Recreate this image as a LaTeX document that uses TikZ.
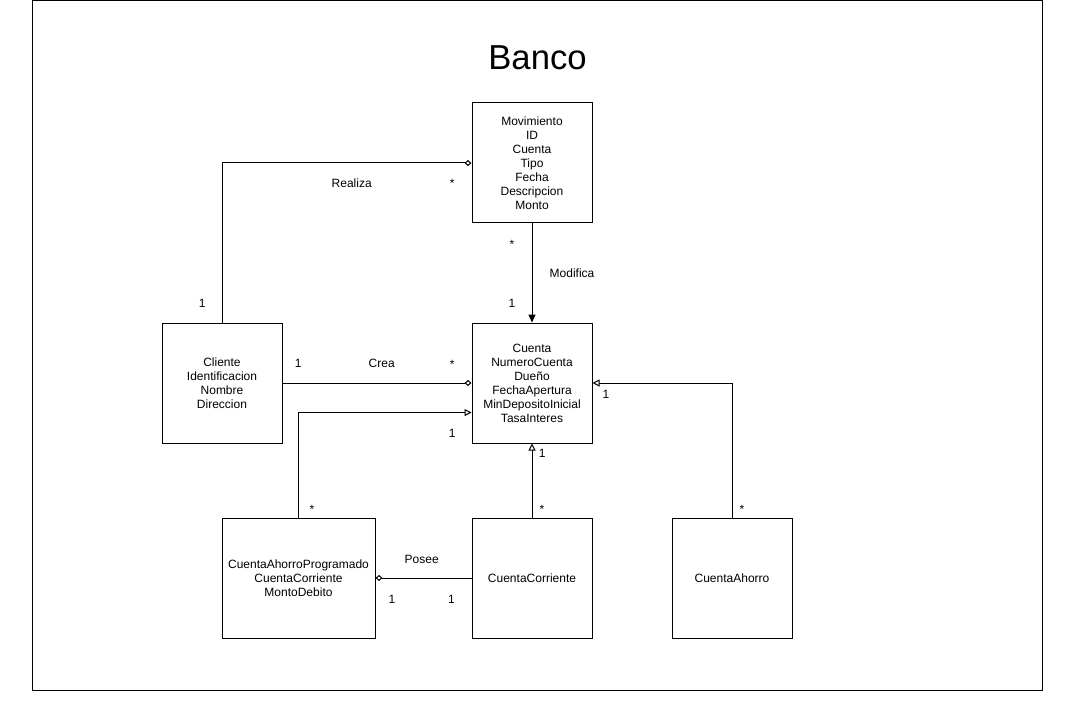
\documentclass[tikz,border=0pt]{standalone}
\usepackage{fontspec}
\setmainfont{Liberation Sans}
\usetikzlibrary{arrows.meta}
\newlength{\du}
\setlength{\du}{0.75pt}

\begin{document}
\begin{tikzpicture}[
  classbox/.style={draw=dialinecolor, line width=1\du, minimum width=120\du,
    minimum height=120\du, inner sep=0pt, align=center,
    font=\fontsize{9}{10.5}\selectfont},
  lbl/.style={anchor=base, inner sep=0pt, font=\fontsize{9}{10.5}\selectfont},
  assoc/.style={draw=dialinecolor, line width=1\du,
    -{Diamond[open, length=5.25pt, width=4.5pt]}},
  genl/.style={draw=dialinecolor, line width=1\du,
    -{Triangle[open, length=5.25pt, width=5.25pt]}},
  navig/.style={draw=dialinecolor, line width=1\du,
    -{Triangle[length=6pt, width=5.25pt]}}]
\pgftransformxscale{1.000000}
\pgftransformyscale{-1.000000}
\definecolor{dialinecolor}{rgb}{0.000000, 0.000000, 0.000000}
\useasboundingbox (0\du,0\du) rectangle (1080\du,716\du);
% frame and title
\draw[dialinecolor, line width=1\du] (32.5\du,0.5\du) rectangle (1042\du,690\du);
\node[anchor=base, font=\fontsize{26}{31}\selectfont] (title) at (537.5\du,69.3\du) {Banco};
% classes
\node[classbox] (mov) at (532\du,163\du) {Movimiento\\ID\\Cuenta\\Tipo\\Fecha\\Descripcion\\Monto};
\node[classbox] (cta) at (532\du,383\du) {Cuenta\\NumeroCuenta\\Dueño\\FechaApertura\\MinDepositoInicial\\TasaInteres};
\node[classbox] (cli) at (222\du,383\du) {Cliente\\Identificacion\\Nombre\\Direccion};
\node[classbox, minimum width=153\du] (cap) at (298.5\du,578\du) {CuentaAhorroProgramado\\CuentaCorriente\\MontoDebito};
\node[classbox] (cc) at (532\du,578\du) {CuentaCorriente};
\node[classbox] (ca) at (732\du,578\du) {CuentaAhorro};
% relations
\draw[assoc] (cli.north) |- (mov.west);
\draw[navig] (mov.south) -- (cta.north);
\draw[assoc] (cli.east) -- (cta.west);
\draw[genl] (cap.north) |- (cta.206.57);
\draw[genl] (cc.north) -- (cta.south);
\draw[genl] (ca.north) |- (cta.east);
\draw[assoc] (cc.west) -- (cap.east);
% labels
\node[lbl] (realiza) at (351.7\du,187.6\du) {Realiza};
\node[lbl] (realizaM) at (452.3\du,187.6\du) {*};
\node[lbl] (realizaN) at (202.3\du,307.6\du) {1};
\node[lbl] (modifica) at (572\du,277.6\du) {Modifica};
\node[lbl] (modificaM) at (512\du,248.6\du) {*};
\node[lbl] (modificaN) at (512\du,307.6\du) {1};
\node[lbl] (crea) at (381.7\du,367.6\du) {Crea};
\node[lbl] (creaN) at (298.3\du,367.6\du) {1};
\node[lbl] (creaM) at (452.3\du,368.3\du) {*};
\node[lbl] (capN) at (452.3\du,437.6\du) {1};
\node[lbl] (capM) at (311.9\du,513.6\du) {*};
\node[lbl] (ccN) at (542.3\du,457.6\du) {1};
\node[lbl] (ccM) at (542\du,513.6\du) {*};
\node[lbl] (caN) at (606\du,398.3\du) {1};
\node[lbl] (caM) at (741.9\du,513.6\du) {*};
\node[lbl] (posee) at (421.7\du,563.3\du) {Posee};
\node[lbl] (poseeA) at (392\du,603.3\du) {1};
\node[lbl] (poseeB) at (451.4\du,603.3\du) {1};
\end{tikzpicture}
\end{document}
